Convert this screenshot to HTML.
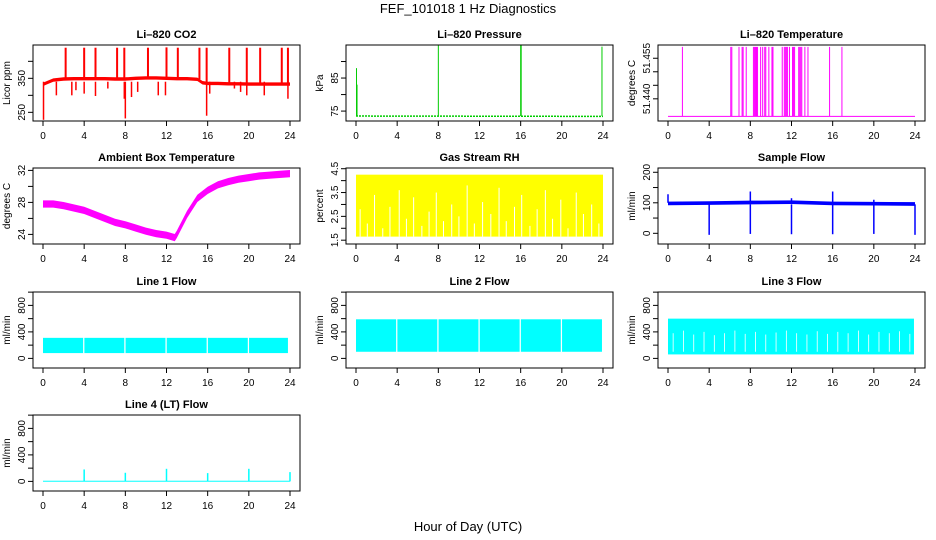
<!DOCTYPE html>
<html><head><meta charset="utf-8"><style>
html,body{margin:0;padding:0;background:#fff}
svg{display:block;font-family:"Liberation Sans",Arial,sans-serif}
</style></head><body>
<svg id="c" width="936" height="540" viewBox="0 0 936 540">
<text x="468" y="13" text-anchor="middle" font-size="13">FEF_101018  1 Hz Diagnostics</text>
<text x="468" y="531" text-anchor="middle" font-size="13">Hour of Day (UTC)</text>
</svg>
<script>
// ---- data ----
const xTicks=[0,4,8,12,16,20,24];
const co2Hours=[0,0.3,1,2,3,4,5,6,7,8,9,10,11,12,13,14,15,15.5,16,17,18,19,20,21,22,23,24];
const co2Base=[332,336,345,348,349,349,349,349,348,348,350,351,351,350,349,349,347,337,335,335,334,334,333,333,333,333,333];
const co2UpTimes=[2.2,4.0,5.1,7.2,7.9,10.2,12.0,13.1,15.2,15.9,18.1,19.8,21.1,23.2,23.8];
const co2UpValues=[440,440,440,440,440,440,441,440,440,440,440,440,440,440,440];
const co2DownTimes=[0.05,1.3,2.8,3.2,4.0,5.1,6.3,7.9,8.0,8.6,9.2,11.2,11.9,15.9,16.2,18.6,19.2,19.8,21.5,23.8];
const co2DownValues=[228,300,300,315,305,298,320,290,232,295,310,300,300,240,305,320,310,300,300,290];
const presTimes=[0,24];
const presBase=[73.5,73.4];
const presSpikeTimes=[0.05,0.1,8.0,16.0,16.05,23.9];
const presSpikeValues=[88,83,95,95,95,94.5];
const tempBase=51.4335;
const tempSpikeTimes=[1.4,6.1,6.2,6.9,7.2,7.3,7.6,8.3,8.4,8.5,8.6,8.7,9.0,9.2,9.4,9.5,9.8,10.1,10.2,11.1,11.3,11.4,11.5,11.6,11.8,12.1,12.2,12.3,12.7,12.8,12.9,13.0,13.3,13.6,15.7,16.9];
const tempSpikeValue=51.4592;
const ambHours=[0,1,2,3,4,5,6,7,8,9,10,11,12,12.8,13,14,15,16,17,18,19,20,21,22,23,24];
const ambTemp=[27.8,27.8,27.6,27.3,27.0,26.5,26.0,25.5,25.2,24.8,24.4,24.1,23.9,23.6,24.0,26.5,28.5,29.5,30.2,30.6,30.9,31.1,31.3,31.4,31.5,31.6];
const rhLow=1.65, rhHigh=4.25;
const rhGapTimes=[0.4,1.1,1.8,2.6,3.3,4.2,4.9,5.6,6.4,7.1,7.8,8.5,9.3,10.0,10.8,11.5,12.3,13.1,13.9,14.6,15.4,16.1,16.9,17.6,18.4,19.1,19.9,20.6,21.4,22.1,22.9,23.6];
const rhGapTops=[2.8,2.2,3.4,2.0,2.9,3.6,2.4,3.3,2.1,2.7,3.5,2.3,3.0,2.5,3.8,2.2,3.1,2.6,3.7,2.3,2.9,3.4,2.1,2.8,3.6,2.4,3.2,2.0,3.5,2.6,3.0,2.2];
const flowHours=[0,4,8,12,16,20,24];
const flowBase=[98,99,101,102,98,97,96];
const flowDropTimes=[4,8,12,16,20,24];
const flowDropValues=[-5,-2,-3,-3,-2,-5];
const flowSpikeTimes=[0,8,12,16,20];
const flowSpikeValues=[128,137,115,137,110];
const line1Range=[80,310];
const line2Range=[100,590];
const line3Range=[60,600];
const lineGapTimes=[3.9,7.9,11.9,15.9,19.9];
const line3DipTimes=[0.5,1.5,2.5,3.5,4.5,5.5,6.5,7.5,8.5,9.5,10.5,11.5,12.5,13.5,14.5,15.5,16.5,17.5,18.5,19.5,20.5,21.5,22.5,23.5];
const line3DipValues=[380,420,360,400,350,380,420,370,400,360,390,420,380,360,410,370,400,380,420,360,400,380,410,370];
const line4SpikeTimes=[4,8,12,16,20,24];
const line4SpikeValues=[180,130,190,125,190,140];

// ---- layout ----
const cols=[33,346,658], tops=[45,168,292,415], PW=267, PH=76;
const svg=document.getElementById('c');
const NS='http://www.w3.org/2000/svg';
function mk(tag,attrs,parent){const e=document.createElementNS(NS,tag);for(const k in attrs)e.setAttribute(k,attrs[k]);(parent||svg).appendChild(e);return e;}

function panel(name,title,col,row,ylim,yTicks,yLabels,ylab){
  const L=cols[col],T=tops[row];
  const g=mk('g',{});
  
  
  const sx=v=>L+10+v*(PW-20)/24;
  const sy=v=>T+PH-(v-ylim[0])/(ylim[1]-ylim[0])*PH;
  const t=mk('text',{x:L+PW/2,y:T-7,'text-anchor':'middle','font-size':'11','font-weight':'bold'},g);
  t.textContent=title;
  
  
  const plot=mk('g',{},g);
  
  
  const b=mk('rect',{x:L,y:T,width:PW,height:PH,fill:'none',stroke:'#000','stroke-width':1},g);
  
  
  const xa=mk('g',{},g);
  
  
  mk('line',{x1:sx(0),x2:sx(24),y1:T+PH,y2:T+PH,stroke:'#000'},xa);
  xTicks.forEach(v=>{
    mk('line',{x1:sx(v),x2:sx(v),y1:T+PH,y2:T+PH+5,stroke:'#000'},xa);
    const l=mk('text',{x:sx(v),y:T+PH+18,'text-anchor':'middle','font-size':'10'},xa);
    l.textContent=v;
  });
  const ya=mk('g',{},g);
  
  
  yTicks.forEach(v=>{
    mk('line',{x1:L-5,x2:L,y1:sy(v),y2:sy(v),stroke:'#000'},ya);
  });
  yLabels.forEach(v=>{
    const l=mk('text',{x:0,y:0,'text-anchor':'middle','font-size':'10',transform:`translate(${L-8},${sy(v)}) rotate(-90)`},ya);
    l.textContent=v;
  });
  const yl=mk('text',{x:0,y:0,'text-anchor':'middle','font-size':'10',transform:`translate(${L-23},${T+PH/2}) rotate(-90)`},g);
  yl.textContent=ylab;
  
  
  return {sx,sy,plot,L,T};
}
function band(p,times,vals,half,color){
  let pts=times.map((t,i)=>p.sx(t)+','+p.sy(vals[i]+half));
  pts=pts.concat(times.slice().reverse().map((t,i)=>p.sx(t)+','+p.sy(vals[vals.length-1-i]-half)));
  const e=mk('polygon',{points:pts.join(' '),fill:color},p.plot);
  
  
}
function vline(p,t,v0,v1,color,w){
  const e=mk('line',{x1:p.sx(t),x2:p.sx(t),y1:p.sy(v0),y2:p.sy(v1),stroke:color,'stroke-width':w||1.5},p.plot);
  
  
}
function rangeRect(p,t0,t1,v0,v1,color){
  const e=mk('rect',{x:p.sx(t0),y:p.sy(v1),width:p.sx(t1)-p.sx(t0),height:p.sy(v0)-p.sy(v1),fill:color},p.plot);
  
  
}

// CO2
let p=panel('co2','Li\u2013820 CO2',0,0,[224.5,448],[250,300,350,400],[250,350],'Licor ppm');
band(p,co2Hours,co2Base,5,'#ff0000');
co2UpTimes.forEach((t,i)=>{const b=co2Base[Math.min(co2Hours.length-1,Math.round(t)+1)];vline(p,t,b,co2UpValues[i],'#ff0000',2);});
co2DownTimes.forEach((t,i)=>vline(p,t,340,co2DownValues[i],'#ff0000',1.5));

// Pressure
p=panel('pressure','Li\u2013820 Pressure',1,0,[72,95],[75,80,85,90],[75,85],'kPa');
const pl=mk('line',{x1:p.sx(presTimes[0]),x2:p.sx(presTimes[1]),y1:p.sy(presBase[0]),y2:p.sy(presBase[1]),stroke:'#00cc00','stroke-width':1.5,'stroke-dasharray':'2 1'},p.plot);


presSpikeTimes.forEach((t,i)=>vline(p,t,73.5,presSpikeValues[i],'#00cc00',1));

// Temperature
p=panel('li820-temp','Li\u2013820 Temperature',2,0,[51.4318,51.4599],[51.440,51.445,51.450,51.455],['51.440','51.455'],'degrees C');
const tl=mk('line',{x1:p.sx(0),x2:p.sx(24),y1:p.sy(tempBase),y2:p.sy(tempBase),stroke:'#ff00ff','stroke-width':1},p.plot);


tempSpikeTimes.forEach(t=>vline(p,t,tempBase,tempSpikeValue,'#ff00ff',1));

// Ambient
p=panel('ambient-temp','Ambient Box Temperature',0,1,[22.8,32.3],[24,26,28,30,32],[24,28,32],'degrees C');
band(p,ambHours,ambTemp,0.45,'#ff00ff');

// RH
p=panel('gas-rh','Gas Stream RH',1,1,[1.34,4.53],[1.5,2,2.5,3,3.5,4,4.5],[1.5,2.5,3.5,4.5],'percent');
rangeRect(p,0,24,rhLow,rhHigh,'#ffff00');
rhGapTimes.forEach((t,i)=>vline(p,t,rhLow,rhGapTops[i],'#ffffff',1));

// Sample flow
p=panel('sample-flow','Sample Flow',2,1,[-35,214],[0,50,100,150,200],[0,100,200],'ml/min');
band(p,flowHours,flowBase,6,'#0000ff');
flowDropTimes.forEach((t,i)=>vline(p,t,95,flowDropValues[i],'#0000ff',1.5));
flowSpikeTimes.forEach((t,i)=>vline(p,t,100,flowSpikeValues[i],'#0000ff',1.5));

// Line flows
const lt=[0,200,400,600,800,1000], ll=[0,400,800];
p=panel('line1-flow','Line 1 Flow',0,2,[-145,1002],lt,ll,'ml/min');
rangeRect(p,0,23.8,line1Range[0],line1Range[1],'#00ffff');
lineGapTimes.forEach(t=>rangeRect(p,t,t+0.12,line1Range[0]-5,line1Range[1]+5,'#ffffff'));
p=panel('line2-flow','Line 2 Flow',1,2,[-145,1002],lt,ll,'ml/min');
rangeRect(p,0,23.9,line2Range[0],line2Range[1],'#00ffff');
lineGapTimes.forEach(t=>rangeRect(p,t,t+0.12,line2Range[0]-5,line2Range[1]+5,'#ffffff'));
p=panel('line3-flow','Line 3 Flow',2,2,[-145,1002],lt,ll,'ml/min');
rangeRect(p,0,23.9,line3Range[0],line3Range[1],'#00ffff');
line3DipTimes.forEach((t,i)=>vline(p,t,line3Range[0]+40,line3DipValues[i],'#ffffff',0.8));

p=panel('line4-flow','Line 4 (LT) Flow',0,3,[-145,1002],lt,ll,'ml/min');
rangeRect(p,0,24,-5,10,'#00ffff');
line4SpikeTimes.forEach((t,i)=>vline(p,t,0,line4SpikeValues[i],'#00ffff',1.5));
</script>
</body></html>
